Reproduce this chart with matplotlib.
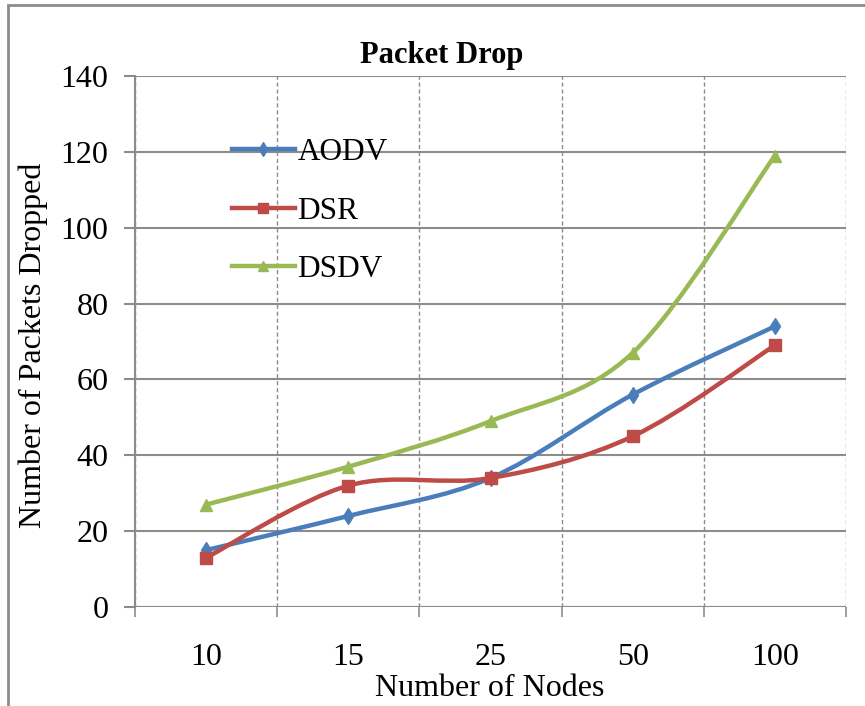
import numpy as np
import matplotlib.pyplot as plt
from matplotlib.path import Path
from matplotlib.patches import PathPatch, Rectangle
from matplotlib.lines import Line2D

# Dane
wezly = ['10', '15', '25', '50', '100']
aodv = [15, 24, 34, 56, 74]
dsr = [13, 32, 34, 45, 69]
dsdv = [27, 37, 49, 67, 119]

kolory = {'AODV': '#4a7ebb', 'DSR': '#be4b48', 'DSDV': '#98b954'}
markery = {'AODV': 'd', 'DSR': 's', 'DSDV': '^'}

plt.rcParams['font.family'] = ['Liberation Serif', 'DejaVu Serif']

fig = plt.figure(figsize=(8.65, 7.06), dpi=100)
W, H = 865, 706
ax = fig.add_axes([135 / W, 1 - 607 / H, (846 - 135) / W, (607 - 76) / H])

# Ramka wykresu
fig.patches.append(Rectangle((8 / W, -0.01), 1.0, 1 - 5 / H + 0.01, transform=fig.transFigure,
                             fill=False, edgecolor='#8c8c8c', linewidth=2))


def gladka_sciezka(xs, ys):
    # krzywa Beziera w stylu Excela (tylko wyglad linii)
    pts = np.column_stack([xs, ys]).astype(float)
    n = len(pts)
    verts = [pts[0]]
    codes = [Path.MOVETO]
    for i in range(n - 1):
        p0 = pts[i - 1] if i > 0 else pts[i]
        p1 = pts[i]
        p2 = pts[i + 1]
        p3 = pts[i + 2] if i + 2 < n else pts[i + 1]
        c1 = p1 + (p2 - p0) / 6
        c2 = p2 - (p3 - p1) / 6
        verts += [c1, c2, p2]
        codes += [Path.CURVE4] * 3
    return Path(verts, codes)


x = np.arange(len(wezly))
for nazwa, wart in [('AODV', aodv), ('DSR', dsr), ('DSDV', dsdv)]:
    sciezka = gladka_sciezka(x, wart)
    ax.add_patch(PathPatch(sciezka, fill=False, edgecolor=kolory[nazwa], linewidth=3.2,
                           capstyle='round', zorder=3))
    ax.plot(x, wart, linestyle='none', marker=markery[nazwa], color=kolory[nazwa],
            markersize=8, zorder=4)

ax.set_xlim(-0.5, len(wezly) - 0.5)
ax.set_ylim(0, 140)
ax.set_yticks(np.arange(0, 141, 20))
ax.set_xticks(x)
ax.set_xticklabels(wezly)
ax.set_xticks(np.arange(-0.5, len(wezly), 1), minor=True)

ax.yaxis.grid(True, color='#8c8c8c', linewidth=1.5)
ax.xaxis.grid(True, which='minor', color='#8c8c8c', linestyle=(0, (3, 2)), linewidth=1)
ax.set_axisbelow(True)

for s in ['top', 'right', 'bottom']:
    ax.spines[s].set_visible(False)
ax.spines['left'].set_color('#8c8c8c')
ax.spines['left'].set_linewidth(1.5)
ax.axhline(0, color='#8c8c8c', linewidth=1.5, zorder=2)

ax.tick_params(axis='y', length=8, color='#8c8c8c', width=1.5, labelsize=23, pad=11)
ax.tick_params(axis='x', which='major', length=0, labelsize=23, pad=26)
ax.tick_params(axis='x', which='minor', length=7, color='#8c8c8c', width=1.2)

ax.set_xlabel('Number of Nodes', fontsize=23, va='center')
ax.xaxis.set_label_coords((490 - 135) / 711, (607 - 688) / 531)
ax.set_ylabel('Number of Packets Dropped', fontsize=23, va='center')
ax.yaxis.set_label_coords((33 - 135) / 711, (607 - 345) / 531)
fig.text(442 / W, 1 - 55 / H, 'Packet Drop', fontsize=22, fontweight='bold',
         ha='center', va='center')

uchwyty = [Line2D([], [], color=kolory[n], marker=markery[n], linewidth=3.2, markersize=7)
           for n in ['AODV', 'DSR', 'DSDV']]
ax.legend(uchwyty, ['AODV', 'DSR', 'DSDV'], loc='upper left',
          bbox_to_anchor=((232 - 135) / 711, (607 - 138) / 531),
          frameon=False, fontsize=22.5, handlelength=2.0, handletextpad=0.1,
          labelspacing=0.95, borderpad=0, borderaxespad=0)

fig.savefig('out.png', dpi=100)
